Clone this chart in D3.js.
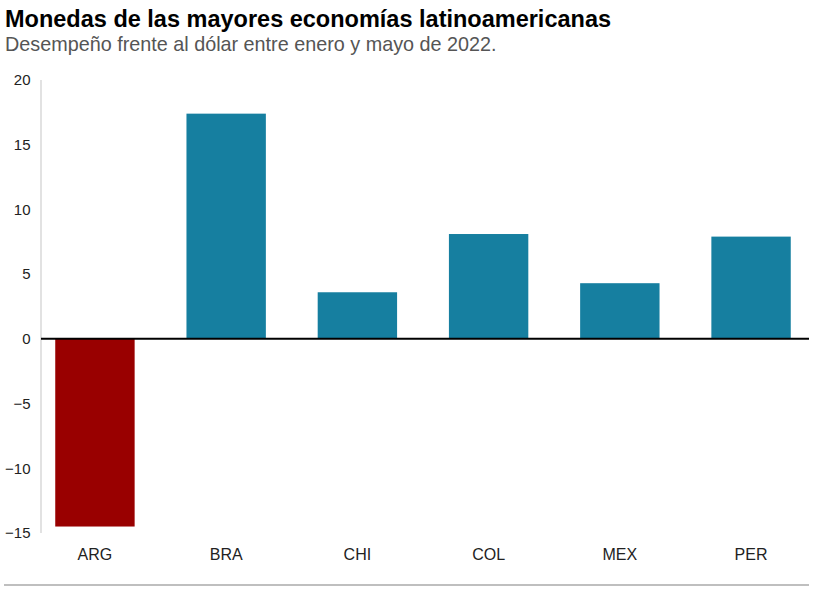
<!DOCTYPE html>
<html><head><meta charset="utf-8">
<script src="https://cdn.jsdelivr.net/npm/d3@7"></script>
<style>
body{margin:0;background:#fff;font-family:"Liberation Sans",Arial,sans-serif;}
</style></head>
<body><svg id="c" width="820" height="592"></svg>
<script>
const categories = ["ARG","BRA","CHI","COL","MEX","PER"];
const values = [-14.5, 17.4, 3.6, 8.1, 4.3, 7.9];
const yTicks = [-15,-10,-5,0,5,10,15,20];
const title = "Monedas de las mayores economías latinoamericanas";
const subtitle = "Desempeño frente al dólar entre enero y mayo de 2022.";

const svg = d3.select("#c");
svg.append("rect").attr("width",820).attr("height",592).attr("fill","#fff");

svg.append("text").attr("x",5).attr("y",27).text(title)
  .attr("font-size",23.5).attr("font-weight","bold").attr("fill","#000");
svg.append("text").attr("x",5).attr("y",51).text(subtitle)
  .attr("font-size",19.8).attr("fill","#555");

const x = d3.scaleBand().domain(categories).range([29,817]).paddingInner(0.395).paddingOuter(0.2);
const y = d3.scaleLinear().domain([-15,20]).range([533,80]);

// y axis line
svg.append("line").attr("x1",41).attr("x2",41).attr("y1",y(20)).attr("y2",y(-15))
  .attr("stroke","#d9d9d9").attr("stroke-width",1.5);

const yAxis = d3.axisLeft(y).tickValues(yTicks).tickSize(0).tickPadding(0)
  .tickFormat(d => d < 0 ? "\u2212" + Math.abs(d) : d);
const gy = svg.append("g").attr("transform","translate(30.5,0)").call(yAxis);
gy.select(".domain").remove();
gy.selectAll("text").attr("font-size",15).attr("fill","#222")
  .attr("font-family","Liberation Sans, Arial, sans-serif");

svg.selectAll("rect.bar").data(values).enter().append("rect").attr("class","bar")
  .attr("x",(d,i)=>x(categories[i]))
  .attr("width",x.bandwidth())
  .attr("y",d=>y(Math.max(0,d)))
  .attr("height",d=>Math.abs(y(d)-y(0)))
  .attr("fill",d=> d<0 ? "#990000" : "#167fa0");

// zero line
svg.append("line").attr("x1",41).attr("x2",809).attr("y1",y(0)).attr("y2",y(0))
  .attr("stroke","#000").attr("stroke-width",2);

const xAxis = d3.axisBottom(x).tickSize(0).tickPadding(0);
const gx = svg.append("g").attr("transform","translate(0,548.5)").call(xAxis);
gx.select(".domain").remove();
gx.selectAll("text").attr("font-size",16).attr("fill","#222")
  .attr("font-family","Liberation Sans, Arial, sans-serif");

// bottom rule
svg.append("line").attr("x1",4).attr("x2",809).attr("y1",585).attr("y2",585)
  .attr("stroke","#aaa").attr("stroke-width",1.5);
</script></body></html>
